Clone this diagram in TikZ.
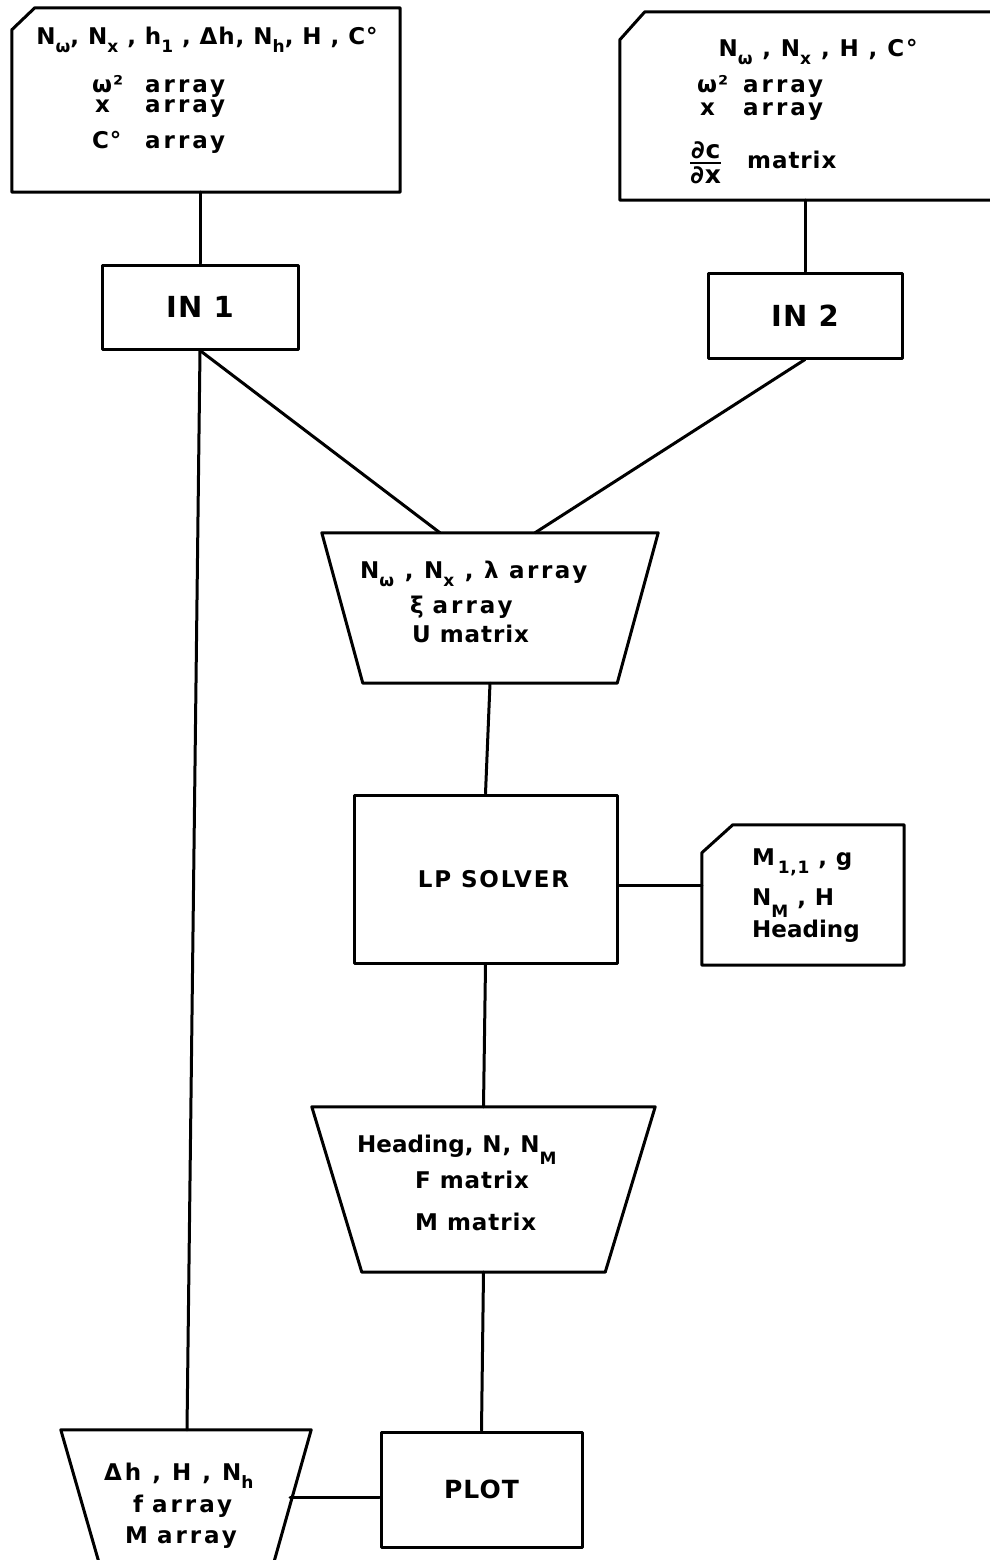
\documentclass[tikz,border=0pt]{standalone}
\usepackage{amsmath}
\usepackage{fontspec}
\setmainfont{DejaVu Sans}[LetterSpace=4]
\usetikzlibrary{positioning,calc}
\newcommand{\lblfont}{\fontsize{23}{27}\selectfont\bfseries}
\newcommand{\lsub}[1]{\raisebox{-8pt}{\fontsize{17}{17}\selectfont #1}}
\newcommand{\lsubM}[1]{\raisebox{-12pt}{\fontsize{17}{17}\selectfont #1}}
\newcommand{\wide}[1]{{\addfontfeature{LetterSpace=13}#1}}
\newcommand{\tight}[1]{{\addfontfeature{LetterSpace=0}#1}}
\newcommand{\dcdx}{{\fontsize{25}{25}\selectfont$\genfrac{}{}{2.6pt}{}{\mbox{∂c}}{\mbox{∂x}}$}}

\begin{document}
\begin{tikzpicture}[x=1pt,y=-1pt,line cap=round,line join=round]
\path[use as bounding box,fill=white] (0,0) rectangle (990,1560);
\tikzset{wire/.style={draw=black,line width=3pt},box/.style={draw=black,line width=3pt,rectangle,inner sep=0pt,font=\lblfont},shell/.style={draw=none,inner sep=0pt},lbl/.style={font=\lblfont,inner sep=0pt}}
% input decks
\node[shell,minimum width=388pt,minimum height=184pt] (deck1) at (206,100) {};
\node[shell,minimum width=380pt,minimum height=188pt] (deck2) at (810,106) {};
\node[shell,minimum width=202pt,minimum height=140pt] (deck3) at (803,895) {};
\draw[wire] ($(deck1.north west)+(23,0)$) -- (deck1.north east) -- (deck1.south east) -- (deck1.south west) -- ($(deck1.north west)+(0,22)$) -- cycle;
\draw[wire] ($(deck2.north west)+(25,0)$) -- (deck2.north east) -- (deck2.south east) -- (deck2.south west) -- ($(deck2.north west)+(0,28)$) -- cycle;
\draw[wire] ($(deck3.north west)+(31,0)$) -- (deck3.north east) -- (deck3.south east) -- (deck3.south west) -- ($(deck3.north west)+(0,28)$) -- cycle;
% program boxes
\node[box,minimum width=196pt,minimum height=84pt,font=\fontsize{29}{33}\selectfont\bfseries] (in1) at (200,307) {IN 1};
\node[box,minimum width=194pt,minimum height=85pt,font=\fontsize{29}{33}\selectfont\bfseries] (in2) at (805,315.5) {IN 2};
\node[box,minimum width=263pt,minimum height=168pt] (lp) at (485.5,879) {\hspace*{16pt}\addfontfeature{LetterSpace=8}\raisebox{-7pt}{LP SOLVER}};
\node[box,minimum width=201pt,minimum height=115pt,font=\fontsize{25}{29}\selectfont\bfseries] (plot) at (481.5,1489.5) {PLOT};
% output files (trapezoids)
\node[shell,minimum width=336pt,minimum height=150pt] (file1) at (490,608) {};
\node[shell,minimum width=343pt,minimum height=165pt] (file2) at (483.5,1189.5) {};
\node[shell,minimum width=250pt,minimum height=170pt] (file3) at (186,1515) {};
\draw[wire] (file1.north west) -- (file1.north east) -- ($(file1.south east)+(-41,0)$) -- ($(file1.south west)+(41,0)$) -- cycle;
\draw[wire] (file2.north west) -- (file2.north east) -- ($(file2.south east)+(-50,0)$) -- ($(file2.south west)+(50,0)$) -- cycle;
\draw[wire] (file3.north west) -- (file3.north east) -- ($(file3.south east)+(-48,0)$) -- ($(file3.south west)+(49,0)$) -- cycle;
% texts
\node[lbl,anchor=base] (d1a) at (207,45) {N\lsub{ω}, N\lsub{x} , h\lsub{1} , Δh, N\lsub{h}, H , C°};
\node[lbl,anchor=base west] (d1b) at (92,93) {\makebox[53pt][l]{ω²}\wide{array}};
\node[lbl,anchor=base west] (d1c) at (95,113) {\makebox[50pt][l]{x}\wide{array}};
\node[lbl,anchor=base west] (d1d) at (92,148) {\makebox[53pt][l]{C°}\wide{array}};
\node[lbl,anchor=base] (d2a) at (818,57) {\addfontfeature{LetterSpace=8}N\lsub{ω} , N\lsub{x} , H , C°};
\node[lbl,anchor=base west] (d2b) at (697,93) {\makebox[46pt][l]{ω²}\wide{array}};
\node[lbl,anchor=base west] (d2c) at (700,116) {\makebox[43pt][l]{x}\wide{array}};
\node[lbl,anchor=west] (d2d) at (689,163) {\dcdx};
\node[lbl,anchor=base west] (d2e) at (747,168) {matrix};
\node[lbl,anchor=base west] (d3a) at (752,865) {M\lsub{\,1,1} , g};
\node[lbl,anchor=base west] (d3b) at (752,905) {N\lsubM{M} , H};
\node[lbl,anchor=base west] (d3c) at (752,937) {\tight{Heading}};
\node[lbl,anchor=base west] (f1a) at (360,578) {\addfontfeature{LetterSpace=11}N\lsub{ω} , N\lsub{x} , λ array};
\node[lbl,anchor=base west] (f1b) at (410,613) {ξ \wide{array}};
\node[lbl,anchor=base west] (f1c) at (412,642) {U matrix};
\node[lbl,anchor=base west] (f2a) at (357,1152) {\tight{Heading}, N, N\lsubM{M}};
\node[lbl,anchor=base west] (f2b) at (415,1188) {F matrix};
\node[lbl,anchor=base west] (f2c) at (415,1230) {M matrix};
\node[lbl,anchor=base west] (f3a) at (104,1480) {\addfontfeature{LetterSpace=13}Δh , H , N\lsub{h}};
\node[lbl,anchor=base west] (f3b) at (133,1512) {f \wide{array}};
\node[lbl,anchor=base west] (f3c) at (125,1543) {M \wide{array}};
% connectors
\coordinate (in1top) at (in1.north |- deck1.south);
\coordinate (in2top) at (in2.north |- deck2.south);
\coordinate (f1l) at ($(file1.north)+(-50,0)$);
\coordinate (f1r) at ($(file1.north)+(45,0)$);
\coordinate (f3top) at ($(file3.north)+(1,0)$);
\coordinate (f3side) at (290,1497);
\draw[wire] (in1top) -- (in1.north);
\draw[wire] (in2top) -- (in2.north);
\draw[wire] (in1.south) -- (f1l);
\draw[wire] (in2.south) -- (f1r);
\draw[wire] (in1.south) -- (f3top);
\draw[wire] (file1.south) -- (lp.north);
\draw[wire] ([yshift=-6pt]lp.east) -- ([yshift=-6pt]lp.east -| deck3.west);
\draw[wire] (lp.south) -- (file2.north);
\draw[wire] (file2.south) -- (plot.north);
\draw[wire] (f3side) -- (f3side -| plot.west);
\end{tikzpicture}
\end{document}
